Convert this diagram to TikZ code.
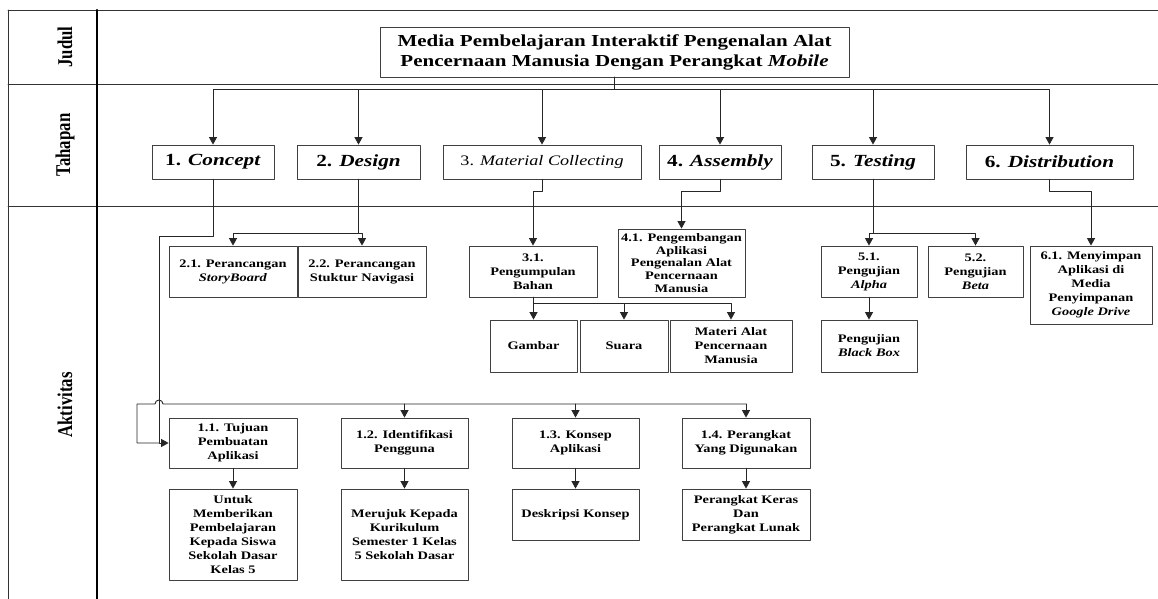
\documentclass[tikz,border=0pt]{standalone}
\usepackage{fontspec}
\setmainfont[FakeStretch=1.25]{Liberation Serif}
\newfontfamily\lajurfont[FakeStretch=0.8]{Liberation Serif}
\usetikzlibrary{arrows.meta}

\begin{document}
\begin{tikzpicture}[x=1pt, y=-1pt, line cap=round, line join=round, >={Triangle[length=7.5pt,width=8pt]},
	ukuran/.style 2 args={minimum width=#1pt, minimum height=#2pt},
	kotak/.style={draw=black!75, line width=0.8pt, align=center, inner sep=1pt, font=\fontsize{11.5}{14}\selectfont\bfseries},
	tahap/.style={draw=black!75, line width=0.8pt, inner sep=0pt, font=\fontsize{17}{20}\selectfont\bfseries},
	lajur/.style={rotate=90, font=\lajurfont\fontsize{21}{24}\selectfont\bfseries},
	garis/.style={black!85, line width=0.9pt},
	panah/.style={garis, ->}]
			\useasboundingbox (0,0) rectangle (1158,599);
			% lanes
			\draw [black!80, line width=0.8pt] (8,10) -- (1158,10);
			\draw [black!80, line width=0.8pt] (8,84) -- (1158,84);
			\draw [black!80, line width=0.8pt] (8,206) -- (1158,206);
			\draw [black!80, line width=0.8pt] (8,10) -- (8,599);
			\draw [line width=2.2pt] (97,10) -- (97,599);
			\node [lajur] (lajurJudul) at (65,47) {Judul};
			\node [lajur] (lajurTahapan) at (65,145) {Tahapan};
			\node [lajur] (lajurAktivitas) at (65,405) {Aktivitas};
			% title
			\node [kotak, ukuran={469}{50}, font=\fontsize{16.8}{20}\selectfont\bfseries] (judul) at (614.5,52) {Media Pembelajaran Interaktif Pengenalan Alat\\ Pencernaan Manusia Dengan Perangkat \textit{Mobile}};
			% stages
			\node [tahap, ukuran={122}{34}] (concept) at (213,162) {1. \textit{Concept}};
			\node [tahap, ukuran={123}{34}] (design) at (358.5,162) {2. \textit{Design}};
			\node [tahap, ukuran={198}{34}, font=\fontsize{14.5}{17}\selectfont] (material) at (542,162) {3. \textit{Material Collecting}};
			\node [tahap, ukuran={122}{34}] (assembly) at (720,162) {4. \textit{Assembly}};
			\node [tahap, ukuran={122}{34}] (testing) at (873,162) {5. \textit{Testing}};
			\node [tahap, ukuran={167}{34}] (distribution) at (1049.5,162) {6. \textit{Distribution}};
			% activities
			\node [kotak, ukuran={128}{51}] (storyboard) at (233,271.5) {2.1. Perancangan\\ \textit{StoryBoard}};
			\node [kotak, ukuran={128}{51}] (navigasi) at (362,271.5) {2.2. Perancangan\\ Stuktur Navigasi};
			\node [kotak, ukuran={128}{51}] (pengumpulan) at (533,271.5) {3.1.\\ Pengumpulan\\ Bahan};
			\node [kotak, ukuran={127}{68}, font=\fontsize{11.5}{12.8}\selectfont\bfseries] (pengembangan) at (681.5,263) {4.1. Pengembangan\\ Aplikasi\\ Pengenalan Alat\\ Pencernaan\\ Manusia};
			\node [kotak, ukuran={87}{52}] (gambar) at (533.5,346) {Gambar};
			\node [kotak, ukuran={88}{52}] (suara) at (624,346) {Suara};
			\node [kotak, ukuran={122}{52}] (materi) at (731,346) {Materi Alat\\ Pencernaan\\ Manusia};
			\node [kotak, ukuran={96}{51}] (alpha) at (869,271.5) {5.1.\\ Pengujian\\ \textit{Alpha}};
			\node [kotak, ukuran={95}{51}] (beta) at (975.5,271.5) {5.2.\\ Pengujian\\ \textit{Beta}};
			\node [kotak, ukuran={96}{52}] (blackbox) at (869,346) {Pengujian\\ \textit{Black Box}};
			\node [kotak, ukuran={122}{78}] (menyimpan) at (1091,285) {6.1. Menyimpan\\ Aplikasi di\\ Media\\ Penyimpanan\\ \textit{Google Drive}};
			\node [kotak, ukuran={128}{50}] (tujuan) at (233,443) {1.1. Tujuan\\ Pembuatan\\ Aplikasi};
			\node [kotak, ukuran={127}{50}] (identifikasi) at (404.5,443) {1.2. Identifikasi\\ Pengguna};
			\node [kotak, ukuran={127}{50}] (konsep) at (575.5,443) {1.3. Konsep\\ Aplikasi};
			\node [kotak, ukuran={128}{50}] (perangkat) at (746,443) {1.4. Perangkat\\ Yang Digunakan};
			\node [kotak, ukuran={128}{91}] (tujuanIsi) at (233,534.5) {Untuk\\ Memberikan\\ Pembelajaran\\ Kepada Siswa\\ Sekolah Dasar\\ Kelas 5};
			\node [kotak, ukuran={127}{91}] (identifikasiIsi) at (404.5,534.5) {Merujuk Kepada\\ Kurikulum\\ Semester 1 Kelas\\ 5 Sekolah Dasar};
			\node [kotak, ukuran={127}{51}] (konsepIsi) at (575.5,514.5) {Deskripsi Konsep};
			\node [kotak, ukuran={128}{51}] (perangkatIsi) at (746,514.5) {Perangkat Keras\\ Dan\\ Perangkat Lunak};
			% title to stages
			\foreach \t in {concept, design, material, assembly, testing, distribution}
				\draw [panah] (judul.south) -- ++(0,12) -| (\t.north);
			% concept
			\coordinate (belok1) at (159,236);
			\coordinate (belok2) at (137,404);
			\draw [panah] (concept.south) |- (belok1) |- (tujuan.west);
			\draw [garis] (belok1 |- tujuan.west) -| (belok2) -- ++(18,0) arc (180:360:4) -- (belok2 -| perangkat.north);
			\foreach \n in {identifikasi, konsep, perangkat}
				\draw [panah] (belok2 -| \n.north) -- (\n.north);
			\foreach \n in {tujuan, identifikasi, konsep, perangkat}
				\draw [panah] (\n.south) -- (\n Isi.north);
			% design
			\draw [panah] (design.south) -- ++(0,54) -| (storyboard.north);
			\draw [panah] (design.south) -- ++(0,54) -| (navigasi.north);
			% material collecting
			\draw [panah] (material.south) -- ++(0,12) -| (pengumpulan.north);
			\foreach \n in {gambar, suara, materi}
				\draw [panah] (pengumpulan.south) -- ++(0,6) -| (\n.north);
			% assembly
			\draw [panah] (assembly.south) -- ++(0,12) -| (pengembangan.north);
			% testing
			\draw [panah] (testing.south) -- ++(0,54) -| (alpha.north);
			\draw [panah] (testing.south) -- ++(0,54) -| (beta.north);
			\draw [panah] (alpha.south) -- (blackbox.north);
			% distribution
			\draw [panah] (distribution.south) -- ++(0,12) -| (menyimpan.north);
		\end{tikzpicture}
\end{document}
